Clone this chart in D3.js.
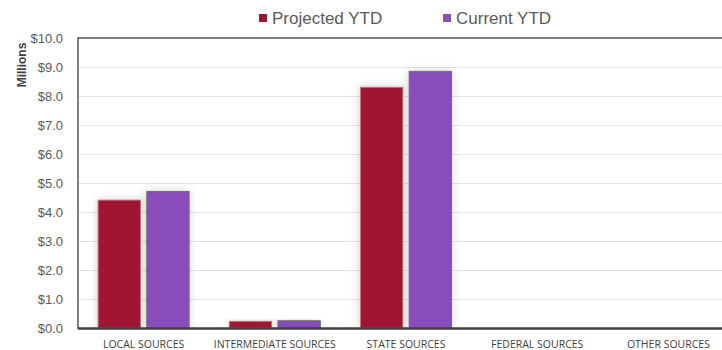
<!DOCTYPE html>
<html>
<head>
<meta charset="utf-8">
<script src="https://cdn.jsdelivr.net/npm/d3@7"></script>
<style>
  html, body { margin: 0; padding: 0; background: #fff; }
  svg { display: block; }
</style>
</head>
<body>
<svg id="chart" width="722" height="350"></svg>
<script>
// Revenue by source, in millions of dollars
const categories = ["LOCAL SOURCES", "INTERMEDIATE SOURCES", "STATE SOURCES", "FEDERAL SOURCES", "OTHER SOURCES"];
const seriesNames = ["Projected YTD", "Current YTD"];
const projectedYTD = [4.41, 0.23, 8.30, 0, 0];
const currentYTD = [4.71, 0.25, 8.85, 0, 0];
const yTicks = [0, 1, 2, 3, 4, 5, 6, 7, 8, 9, 10];
const seriesColors = ["#9e1530", "#8a4bbb"];
const seriesStroke = ["#c9707f", "#6e6e6e"];

const svg = d3.select("#chart");
const W = 722, H = 350;
const plot = { left: 78, right: 734, top: 38, bottom: 328 };

const defs = svg.append("defs");
const shadow = defs.append("filter").attr("id", "barShadow")
  .attr("x", "-40%").attr("y", "-20%").attr("width", "180%").attr("height", "140%");
shadow.append("feDropShadow").attr("dx", 0).attr("dy", 0).attr("stdDeviation", 5)
  .attr("flood-color", "#000").attr("flood-opacity", 0.18);

const clip = defs.append("clipPath").attr("id", "plotClip");
clip.append("rect").attr("x", plot.left).attr("y", plot.top - 2)
  .attr("width", W - plot.left).attr("height", plot.bottom - plot.top + 2);

const x0 = d3.scaleBand().domain(categories).range([plot.left, plot.right]).paddingInner(0).paddingOuter(0);
const x1 = d3.scaleBand().domain(seriesNames).range([0, 91]).paddingInner(0.13);
const groupOffset = (x0.bandwidth() - 91) / 2;
const y = d3.scaleLinear().domain([0, 10]).range([plot.bottom, plot.top]);

// gridlines
svg.append("g")
  .selectAll("line").data(yTicks.filter(d => d > 0 && d < 10)).join("line")
  .attr("x1", plot.left).attr("x2", W)
  .attr("y1", d => Math.round(y(d)) + 0.5).attr("y2", d => Math.round(y(d)) + 0.5)
  .attr("stroke", "#e3e3e3").attr("stroke-width", 1);

// bars
const rows = categories.map((c, i) => ({ cat: c, vals: [projectedYTD[i], currentYTD[i]] }));
const groups = svg.append("g").attr("clip-path", "url(#plotClip)")
  .selectAll("g").data(rows).join("g")
  .attr("transform", d => `translate(${x0(d.cat) + groupOffset},0)`);

groups.selectAll("rect")
  .data(d => d.vals.map((v, k) => ({ name: seriesNames[k], v, k })).filter(e => e.v > 0))
  .join("rect")
  .attr("x", e => x1(e.name))
  .attr("width", x1.bandwidth())
  .attr("y", e => y(e.v))
  .attr("height", e => y(0) - y(e.v))
  .attr("fill", e => seriesColors[e.k])
  .attr("stroke", e => seriesStroke[e.k])
  .attr("stroke-width", 1)
  .attr("filter", "url(#barShadow)");

// y axis labels
const yAxis = d3.axisLeft(y).tickValues(yTicks).tickSize(0).tickPadding(15)
  .tickFormat(d => "$" + d3.format(".1f")(d));
const ya = svg.append("g").attr("transform", `translate(${plot.left},0)`).call(yAxis);
ya.select(".domain").remove();
ya.selectAll("text")
  .attr("font-family", "'Liberation Sans', Arial, sans-serif")
  .attr("font-size", 13).attr("fill", "#595959");

// x axis labels
const xAxis = d3.axisBottom(x0).tickSize(0).tickPadding(13);
const xa = svg.append("g").attr("transform", `translate(0,${plot.bottom})`).call(xAxis);
xa.select(".domain").remove();
xa.selectAll("text")
  .attr("font-family", "'Open Sans', sans-serif")
  .attr("font-size", 10.5).attr("fill", "#404040");

// frame
svg.append("line").attr("x1", plot.left).attr("x2", W).attr("y1", plot.top).attr("y2", plot.top)
  .attr("stroke", "#555").attr("stroke-width", 1.5);
svg.append("line").attr("x1", plot.left).attr("x2", plot.left).attr("y1", plot.top - 0.75).attr("y2", plot.bottom + 1)
  .attr("stroke", "#555").attr("stroke-width", 1.5);
svg.append("line").attr("x1", plot.left).attr("x2", W).attr("y1", plot.bottom + 0.5).attr("y2", plot.bottom + 0.5)
  .attr("stroke", "#404040").attr("stroke-width", 2.5);

// axis title
svg.append("text")
  .attr("transform", "translate(26,65) rotate(-90)")
  .attr("text-anchor", "middle")
  .attr("font-family", "'Liberation Sans', Arial, sans-serif")
  .attr("font-size", 12).attr("font-weight", "bold").attr("fill", "#404040")
  .text("Millions");

// legend
const legendX = [259, 443];
const legend = svg.append("g").selectAll("g").data(seriesNames).join("g")
  .attr("transform", (d, i) => `translate(${legendX[i]},0)`);
legend.append("rect").attr("x", 0).attr("y", 14).attr("width", 8).attr("height", 8)
  .attr("fill", (d, i) => seriesColors[i]);
legend.append("text").attr("x", 13).attr("y", 24)
  .attr("font-family", "'Liberation Sans', Arial, sans-serif")
  .attr("font-size", 17).attr("fill", "#595959")
  .text(d => d);
</script>
</body>
</html>
